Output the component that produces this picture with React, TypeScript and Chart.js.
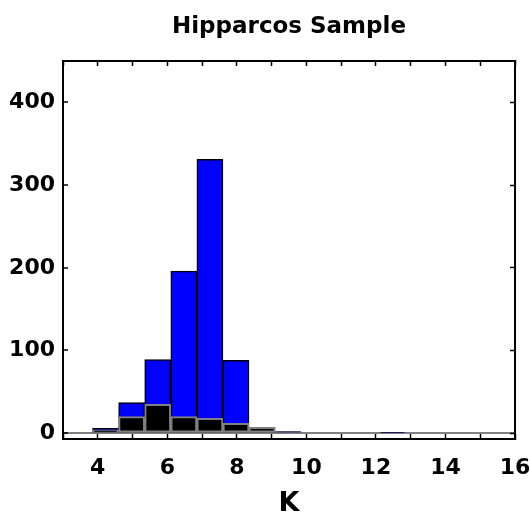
import React, { useEffect, useRef } from 'react';
import { Chart, registerables } from 'chart.js';

Chart.register(...registerables);

// ---- data ----
const binCenters = [4.225, 4.975, 5.725, 6.475, 7.225, 7.975, 8.725, 9.475, 10.225, 10.975, 11.725, 12.475, 13.225, 13.975, 14.725, 15.475];
const allStarCounts = [6, 37, 89, 196, 331, 88, 7, 2, 0, 0, 0, 1, 0, 0, 0, 0];
const subSampleCounts = [4, 20, 35, 20, 18, 12, 7, 2, 0, 0, 0, 1, 0, 0, 0, 0];
const xTickLabels = [4, 6, 8, 10, 12, 14, 16];
const yTickLabels = [0, 100, 200, 300, 400];
const chartTitle = 'Hipparcos Sample';
const xAxisTitle = 'K';

const FONT = "'DejaVu Sans', sans-serif";

const titlePlugin = {
  id: 'mainTitle',
  afterDraw(chart: any) {
    const { ctx, chartArea } = chart;
    ctx.save();
    ctx.font = `bold 23px ${FONT}`;
    ctx.fillStyle = '#000';
    ctx.textAlign = 'center';
    ctx.textBaseline = 'alphabetic';
    ctx.fillText(chartTitle, (chartArea.left + chartArea.right) / 2, 33);
    ctx.restore();
  },
};

export default function App() {
  const ref = useRef<HTMLCanvasElement | null>(null);

  useEffect(() => {
    if (!ref.current) return;
    const tickFont = { family: FONT, size: 22, weight: 'bold' as const };
    const frame = { color: '#000', width: 2 };
    const tickGrid = { offset: false, drawOnChartArea: false, tickLength: -5, tickColor: '#000', tickWidth: 1.5 };

    const chart = new Chart(ref.current, {
      type: 'bar',
      data: {
        datasets: [
          {
            label: 'Subsample',
            data: binCenters.map((x, i) => ({ x, y: subSampleCounts[i] })),
            backgroundColor: '#000000',
            borderColor: '#808080',
            borderWidth: 2,
            borderSkipped: false,
            grouped: false,
            order: 0,
            barPercentage: 1,
            categoryPercentage: 1,
          },
          {
            label: 'All',
            data: binCenters.map((x, i) => ({ x, y: allStarCounts[i] })),
            backgroundColor: '#0000ff',
            borderColor: '#000000',
            borderWidth: 1.5,
            borderSkipped: false,
            grouped: false,
            order: 1,
            barPercentage: 1,
            categoryPercentage: 1,
          },
        ] as any,
      },
      options: {
        animation: false,
        responsive: false,
        devicePixelRatio: 1,
        layout: { padding: { top: 61, right: 15, left: 0, bottom: 0 } },
        plugins: {
          legend: { display: false },
          tooltip: { enabled: false },
          title: { display: false },
        },
        scales: {
          x: {
            type: 'linear',
            position: 'bottom',
            offset: false,
            min: 3,
            max: 16,
            ticks: {
              stepSize: 1,
              autoSkip: false,
              maxRotation: 0,
              padding: 21,
              color: '#000',
              font: tickFont,
              callback: (v: any) => (xTickLabels.includes(Number(v)) ? String(v) : ''),
            },
            grid: tickGrid,
            border: frame,
            title: {
              display: true,
              text: xAxisTitle,
              color: '#000',
              font: { family: FONT, size: 27, weight: 'bold', lineHeight: 1 },
              padding: { top: 0, bottom: -2 },
            },
            afterFit: (s: any) => {
              s.height = 76;
              s.paddingLeft = 0;
              s.paddingRight = 0;
            },
          },
          x2: {
            type: 'linear',
            position: 'top',
            offset: false,
            min: 3,
            max: 16,
            ticks: { display: false, stepSize: 1 },
            grid: tickGrid,
            border: frame,
            afterFit: (s: any) => {
              s.height = 0;
              s.paddingLeft = 0;
              s.paddingRight = 0;
            },
          },
          y: {
            type: 'linear',
            position: 'left',
            min: -7,
            max: 450,
            ticks: {
              stepSize: 100,
              includeBounds: false,
              padding: 13,
              color: '#000',
              font: tickFont,
              callback: (v: any) => (yTickLabels.includes(Number(v)) ? String(v) : ''),
            },
            grid: {
              drawOnChartArea: true,
              color: (c: any) => (c.tick && c.tick.value === 0 ? '#808080' : 'rgba(0,0,0,0)'),
              lineWidth: 2,
              tickLength: -5,
              tickColor: '#000',
              tickWidth: 1.5,
            },
            border: frame,
            afterFit: (s: any) => {
              s.width = 63;
              s.paddingTop = 0;
              s.paddingBottom = 0;
            },
          },
          y2: {
            type: 'linear',
            position: 'right',
            min: -7,
            max: 450,
            ticks: { display: false, stepSize: 100, includeBounds: false },
            grid: tickGrid,
            border: frame,
            afterFit: (s: any) => {
              s.width = 0;
              s.paddingTop = 0;
              s.paddingBottom = 0;
            },
          },
        } as any,
      },
      plugins: [titlePlugin],
    });
    return () => chart.destroy();
  }, []);

  return (
    <div style={{ position: 'absolute', left: 0, top: 0, width: 530, height: 515, background: '#fff' }}>
      <canvas ref={ref} width={530} height={515} style={{ display: 'block', width: 530, height: 515 }} />
    </div>
  );
}
